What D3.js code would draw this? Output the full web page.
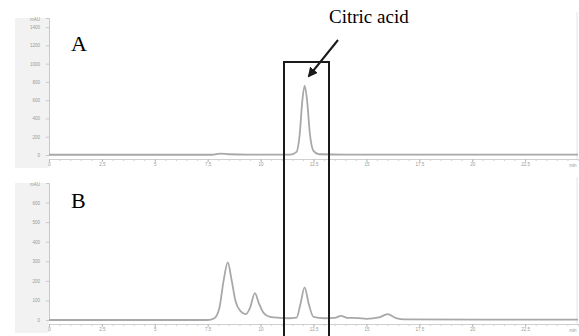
<!DOCTYPE html>
<html>
<head>
<meta charset="utf-8">
<script src="https://cdn.jsdelivr.net/npm/d3@7"></script>
<style>
  body { margin: 0; background: #fff; }
  svg { display: block; }
</style>
</head>
<body>
<svg id="chart" width="579" height="336"></svg>
<script>
// retention time (min), absorbance (mAU)
const traceA = [
  [0, 3], [4, 3], [7.7, 3], [8.1, 16], [8.5, 8], [9.4, 4], [11.4, 4],
  [11.7, 35], [11.85, 230], [11.97, 590], [12.08, 760], [12.2, 590],
  [12.33, 230], [12.5, 45], [12.75, 8], [14, 4], [25, 4]
];
const traceB = [
  [0, 0], [7.5, 0], [7.8, 8], [8.05, 60], [8.25, 200], [8.45, 294],
  [8.62, 210], [8.82, 95], [9.05, 45], [9.3, 30], [9.5, 62], [9.73, 137],
  [9.92, 85], [10.15, 35], [10.45, 16], [10.9, 11], [11.3, 9], [11.7, 12],
  [11.88, 80], [12.08, 167], [12.28, 80], [12.5, 16], [13.0, 9], [13.5, 11],
  [13.8, 21], [14.1, 11], [14.6, 10], [15.0, 6], [15.6, 13], [16.0, 30],
  [16.4, 10], [16.8, 3], [25, 2]
];
const timeTicks = [0, 2.5, 5, 7.5, 10, 12.5, 15, 17.5, 20, 22.5];
const ticksA = [0, 200, 400, 600, 800, 1000, 1200, 1400];
const ticksB = [0, 100, 200, 300, 400, 500, 600];
const panels = [
  { name: "A", data: traceA, ticks: ticksA, max: 1500, top: 18, base: 155 },
  { name: "B", data: traceB, ticks: ticksB, max: 700, top: 183, base: 320 }
];

const svg = d3.select("#chart");
const x = d3.scaleLinear().domain([0, 25]).range([49, 578]);
const tickFont = "Liberation Sans, Arial, sans-serif";

panels.forEach(p => {
  const y = d3.scaleLinear().domain([0, p.max]).range([p.base, p.top]);
  const axisY = p.base + 4;

  // gray strip behind the y axis
  svg.append("rect")
    .attr("x", 15).attr("y", p.top)
    .attr("width", 34).attr("height", axisY + 9 - p.top)
    .attr("fill", "#f2f2f2");

  // right frame line
  svg.append("line")
    .attr("x1", 577).attr("x2", 577)
    .attr("y1", p.top - 6).attr("y2", axisY)
    .attr("stroke", "#e4e4e4");

  // y axis
  const yAxis = svg.append("g")
    .attr("transform", "translate(49,0)")
    .call(d3.axisLeft(y).tickValues(p.ticks).tickSize(3).tickPadding(6)
      .tickFormat(d3.format("d")));
  yAxis.select(".domain").attr("stroke", "#c8c8c8");
  yAxis.selectAll(".tick line").attr("stroke", "#c8c8c8");
  yAxis.selectAll("text")
    .attr("fill", "#999").attr("font-size", 4.5).attr("font-family", tickFont);
  svg.append("text")
    .attr("x", 40).attr("y", p.top + 3)
    .attr("text-anchor", "end")
    .attr("fill", "#999").attr("font-size", 4.5).attr("font-family", tickFont)
    .text("mAU");

  // x axis
  const minor = d3.range(0, 25.01, 0.5);
  svg.append("g")
    .attr("transform", `translate(0,${axisY})`)
    .call(d3.axisBottom(x).tickValues(minor).tickSize(2).tickFormat(""))
    .call(g => g.select(".domain").attr("stroke", "#d0d0d0"))
    .call(g => g.selectAll(".tick line").attr("stroke", "#d0d0d0"));
  const xAxis = svg.append("g")
    .attr("transform", `translate(0,${axisY})`)
    .call(d3.axisBottom(x).tickValues(timeTicks).tickSize(3).tickPadding(1)
      .tickFormat(d => d));
  xAxis.select(".domain").remove();
  xAxis.selectAll(".tick line").attr("stroke", "#bbb");
  xAxis.selectAll("text")
    .attr("fill", "#999").attr("font-size", 4.5).attr("font-family", tickFont);
  svg.append("text")
    .attr("x", 573).attr("y", axisY + 8)
    .attr("text-anchor", "middle")
    .attr("fill", "#999").attr("font-size", 4.5).attr("font-family", tickFont)
    .text("min");

  // trace
  const line = d3.line()
    .x(d => x(d[0]))
    .y(d => y(d[1]))
    .curve(d3.curveMonotoneX);
  svg.append("path")
    .datum(p.data)
    .attr("d", line)
    .attr("fill", "none")
    .attr("stroke", "#a8a8a8")
    .attr("stroke-width", 1.8);

  // panel letter
  svg.append("text")
    .attr("x", 71).attr("y", p.name === "A" ? 51 : 208)
    .attr("font-family", "Liberation Serif, Times New Roman, serif")
    .attr("font-size", 22)
    .text(p.name);
});

// box around the citric acid peak (spans both traces)
svg.append("rect")
  .attr("x", 284).attr("y", 62)
  .attr("width", 45).attr("height", 290)
  .attr("fill", "none")
  .attr("stroke", "#1a1a1a")
  .attr("stroke-width", 2);

// label and arrow
svg.append("defs").append("marker")
  .attr("id", "head")
  .attr("viewBox", "0 0 10 10")
  .attr("refX", 8).attr("refY", 5)
  .attr("markerWidth", 5).attr("markerHeight", 5)
  .attr("orient", "auto")
  .append("path")
  .attr("d", "M0,0 L10,5 L0,10 z")
  .attr("fill", "#1a1a1a");

svg.append("line")
  .attr("x1", 338).attr("y1", 40)
  .attr("x2", 309).attr("y2", 76)
  .attr("stroke", "#1a1a1a")
  .attr("stroke-width", 2)
  .attr("marker-end", "url(#head)");

svg.append("text")
  .attr("x", 329).attr("y", 23)
  .attr("font-family", "Liberation Serif, Times New Roman, serif")
  .attr("font-size", 19)
  .text("Citric acid");
</script>
</body>
</html>
